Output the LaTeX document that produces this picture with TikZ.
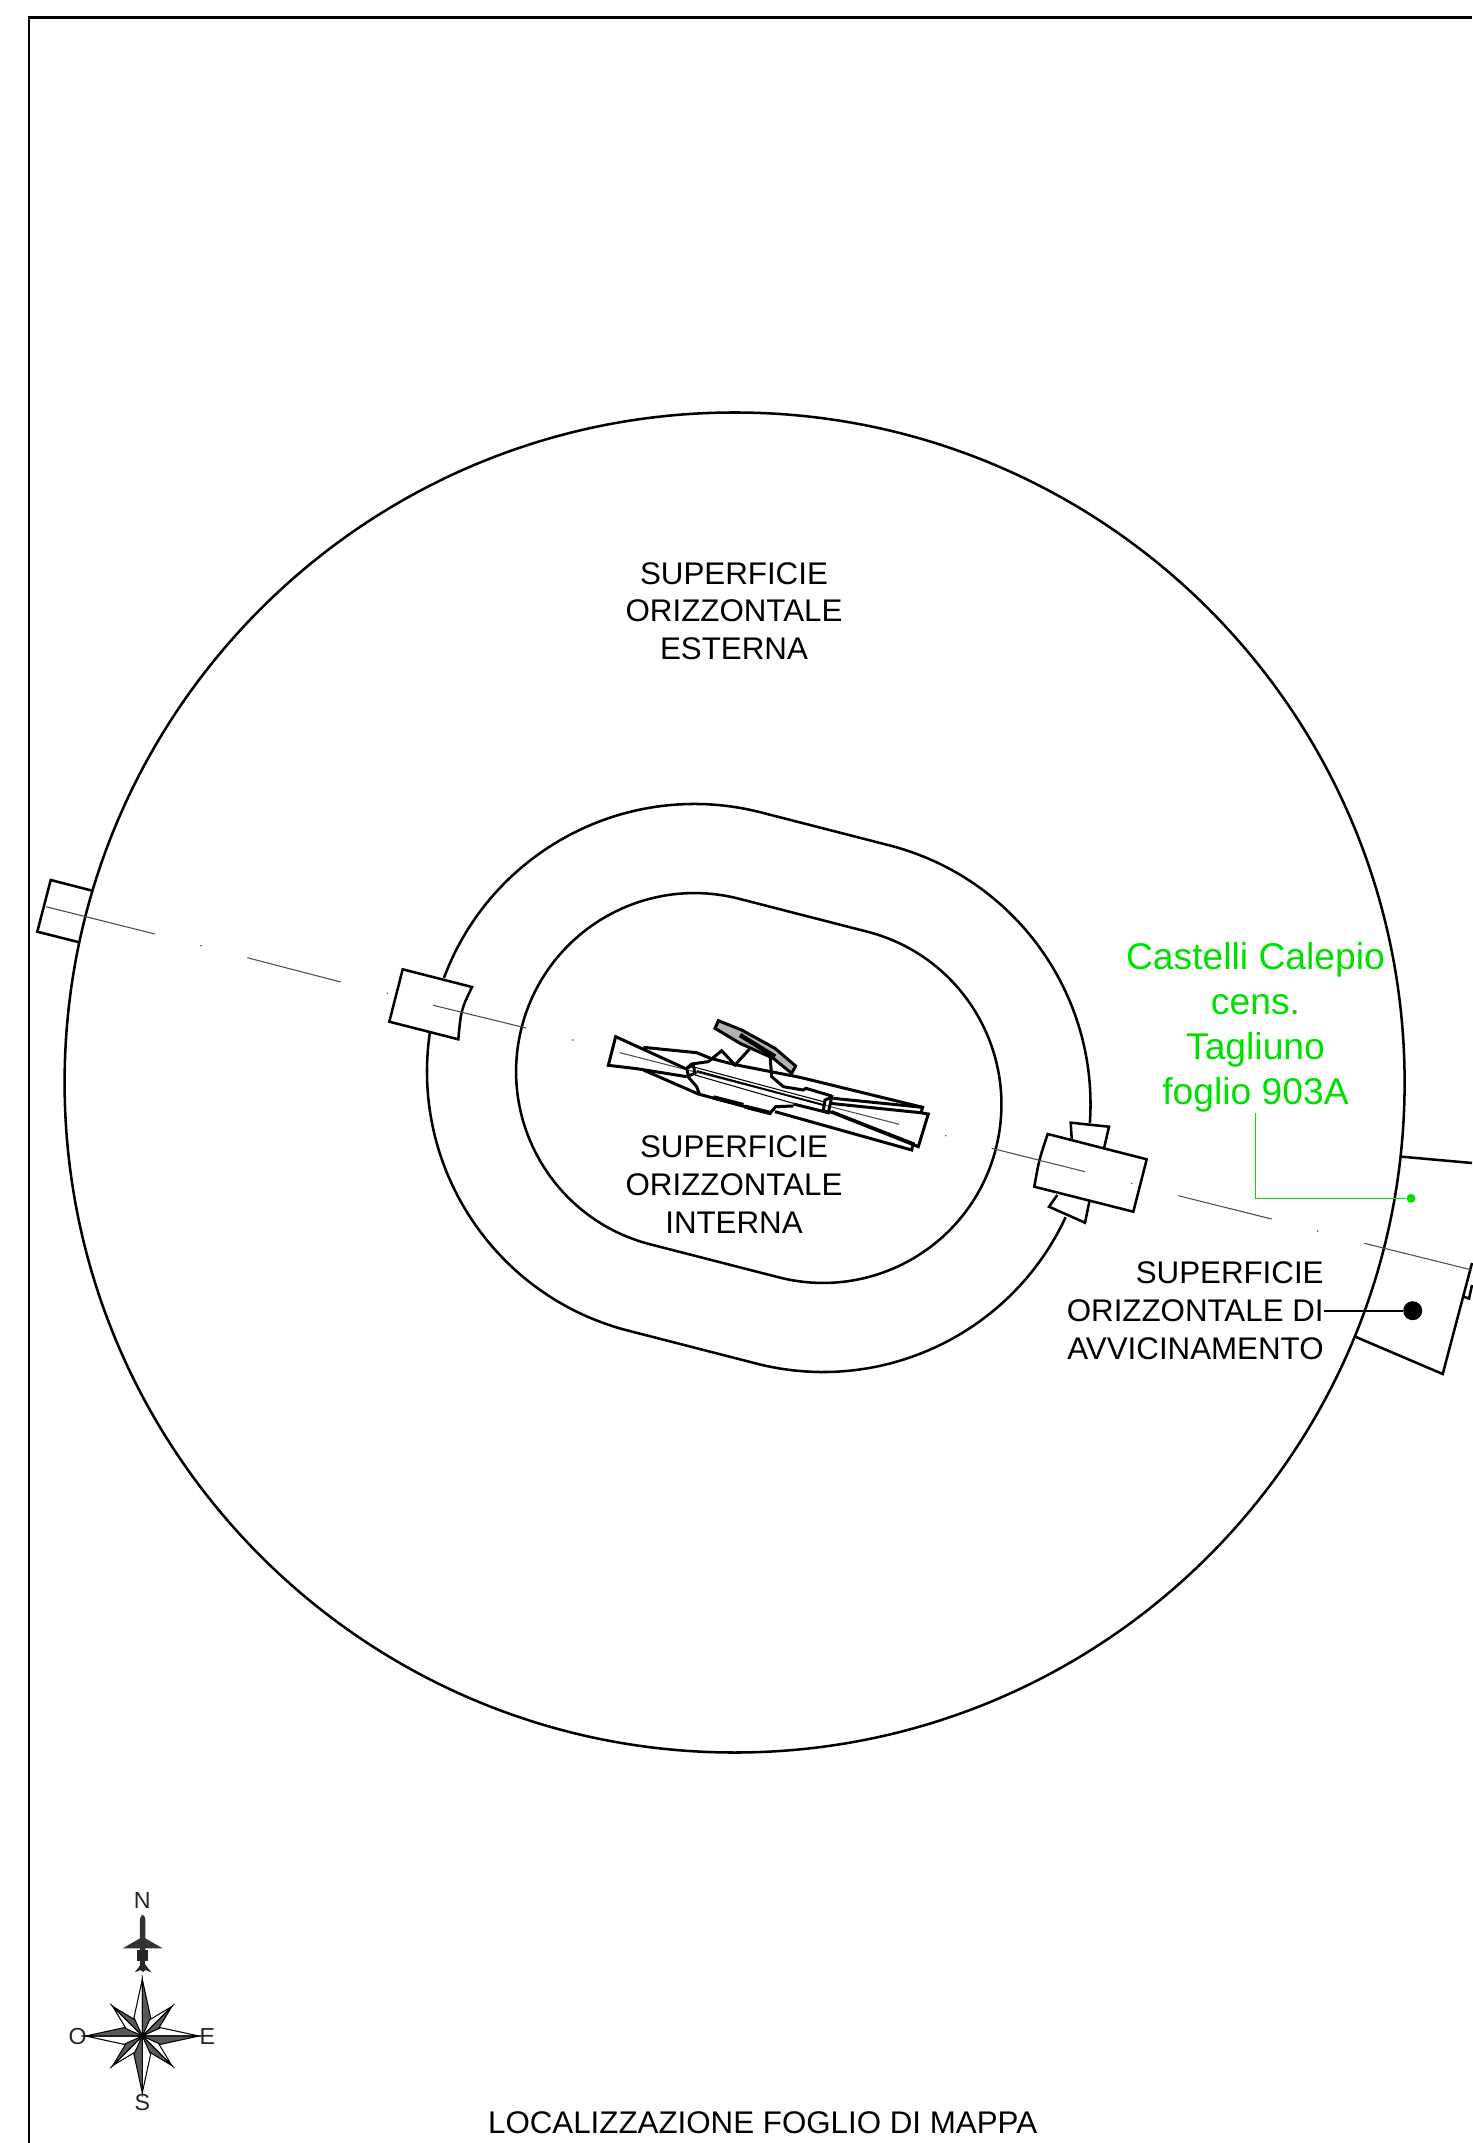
\documentclass[tikz,border=0pt]{standalone}
\usepackage{fontspec}
\setmainfont{Liberation Sans}
\usetikzlibrary{calc}
\definecolor{leadgreen}{RGB}{0,224,0}
\begin{document}
\begin{tikzpicture}[x=0.01cm,y=-0.01cm,line join=miter,
	edge/.style={line width=0.72pt},
	axisline/.style={line width=0.3pt,black!70},
	airport/.style={line width=0.85pt},
	label/.style={font=\fontsize{8.9}{10.7}\selectfont,align=center,inner sep=0pt},
	greenlabel/.style={font=\fontsize{10.6}{12.8}\selectfont,align=center,inner sep=0pt,text=leadgreen},
	compassletter/.style={font=\fontsize{6.6}{7}\selectfont,inner sep=0pt,text=black!85},
	rosefill/.style={fill=black!65,draw=black,line width=0.3pt}]
	\useasboundingbox (0,0) rectangle (1472,2143);
	\coordinate (stripa) at (694.5,1071.5);
	\coordinate (stripb) at (823,1104.5);
	\draw[edge] (1472,17.5) -- (29,17.5) -- (29,2143);
	\draw[edge] (734.6,1082.5) circle[radius=670];
	\draw[edge] ($(stripa)+(-75.6:178.4)$) -- ($(stripb)+(-75.6:178.4)$) arc[start angle=-75.6,end angle=104.4,radius=178.4]
		-- ($(stripa)+(104.4:178.4)$) arc[start angle=104.4,end angle=284.4,radius=178.4] -- cycle;
	\draw[edge] ($(stripb)+(24.9:267.5)$) arc[start angle=24.9,end angle=104.4,radius=267.5]
		-- ($(stripa)+(104.4:267.5)$) arc[start angle=104.4,end angle=188.3,radius=267.5];
	\draw[edge] ($(stripa)+(200.5:267.5)$) arc[start angle=200.5,end angle=284.4,radius=267.5]
		-- ($(stripb)+(-75.6:267.5)$) arc[start angle=-75.6,end angle=4,radius=267.5];
	\draw[edge] (92.3,890.7) -- (50.7,880) -- (37.3,931.7) -- (79.3,942.3);
	\draw[edge] (472,987) -- (402.7,969.3) -- (389.3,1021.7) -- (458.3,1039.3) .. controls (461,1010) .. cycle;
	\draw[edge] (1047.7,1134) -- (1146.7,1159.3) -- (1133.3,1211.7) -- (1034.3,1186.7) .. controls (1039,1160) .. cycle;
	\draw[edge] (1071.7,1139.3) -- (1070.7,1122.7) -- (1109,1126.7) -- (1104,1148.3);
	\draw[edge] (1057.3,1195) -- (1049,1206.7) -- (1085,1222.7) -- (1089.3,1201.7);
	\draw[edge] (1401.7,1156.7) -- (1472,1163);
	\draw[edge] (1356,1337) -- (1442.7,1374) -- (1472,1263);
	\draw[edge] (1463.3,1296.7) -- (1469,1298.5) -- (1472,1285);
	\foreach \ax/\ay/\bx/\by in {46/906.7/155/934,247.3/957.7/340.7/982,433.3/1005.3/526/1028,620/1052.7/899.3/1124.3,991.7/1148.3/1085/1171.7,1178.3/1195.7/1271.7/1219,1364.3/1243.3/1472/1270}
		\draw[axisline] (\ax,\ay) -- (\bx,\by);
	\foreach \ax/\ay in {201/945.7,387.3/993.3,572.7/1040,945.7/1135.7,1131.7/1183.3,1317.7/1231}
		\fill[black!70] (\ax,\ay) circle[radius=0.8];
	\begin{scope}[shift={(580,990)},scale=0.3333]
		\draw[airport] (315,235) -- (107,140) -- (85,226) -- (170,236) -- (320,260);
		\draw[airport] (190,172) -- (350,188) -- (392,205) -- (465,224) -- (660,262) -- (1028,352) -- (1023,370);
		\draw[airport] (320,235) -- (335,222) -- (385,215) -- (425,182) -- (465,225) -- (508,178);
		\draw[airport] (190,240) -- (355,312) -- (570,370) -- (587,350) -- (640,348);
		\draw[airport] (322,258) -- (350,290) -- (358,312);
		\draw[airport] (585,365) -- (995,480) -- (1000,461) -- (755,365);
		\draw[airport] (320,235) -- (340,225) -- (345,250) -- (325,258) -- cycle;
		\draw[airport] (735,330) -- (755,322) -- (745,368) -- (730,362) -- cycle;
		\draw[airport] (570,195) -- (575,260) -- (610,290) -- (670,300) -- (678,295) -- (755,318);
		\draw[airport] (745,368) -- (640,342);
		\draw[airport] (760,325) -- (1028,352);
		\draw[airport] (750,340) -- (1020,368) -- (1045,372) -- (1015,470) -- (750,365);
		\draw[airport,fill=black!30] (415,92) -- (405,115) -- (480,160) -- (580,205) -- (635,250) -- (647,228) -- (585,175) -- (485,120) -- cycle;
		\draw[line width=1.3pt] (480,135) -- (585,200);
		\draw[line width=0.3pt] (345,232) -- (730,335);
		\draw[line width=0.3pt] (345,255) -- (640,340);
		\draw[line width=0.55pt] (350,243) -- (730,345);
		\draw[line width=1.2pt] (400,322) -- (490,345);
		\draw[line width=1.2pt] (495,350) -- (575,370);
	\end{scope}
	\node[label] (esterna) at (734,611) {SUPERFICIE\\ORIZZONTALE\\ESTERNA};
	\node[label] (interna) at (734,1184.5) {SUPERFICIE\\ORIZZONTALE\\INTERNA};
	\node[label,align=right,anchor=east] (avvicinamento) at (1324.3,1310.7) {SUPERFICIE\\ORIZZONTALE DI\\AVVICINAMENTO};
	\node[circle,fill=black,inner sep=0pt,minimum size=0.19cm] (blackdot) at (1412.7,1310.7) {};
	\draw[line width=0.55pt] (avvicinamento.east) -- (blackdot);
	\node[greenlabel] (foglio) at (1255.5,1027) {Castelli Calepio\\cens.\\Tagliuno\\foglio 903A};
	\node[circle,fill=leadgreen,inner sep=0pt,minimum size=0.09cm] (greendot) at (1411,1198.3) {};
	\draw[leadgreen,line width=0.4pt] (foglio.south) |- (greendot);
	\node[label] (titolo) at (762.6,2123) {LOCALIZZAZIONE FOGLIO DI MAPPA};
	\begin{scope}[shift={(40,1870)},scale=0.3333]
		\fill[black!80] (300,245) -- (300,148) .. controls (302,130) and (314,130) .. (316,148) -- (316,245) -- cycle;
		\fill[black!80] (300,205) -- (248,235) -- (368,235) -- (316,205) -- cycle;
		\fill[black!85] (292,240) rectangle (325,272);
		\fill[black!85] (300,272) rectangle (316,285);
		\fill[black!85] (302,283) -- (316,283) -- (322,292) -- (335,307) -- (316,300) -- (309,306) -- (302,300) -- (284,307) -- (296,292) -- cycle;
	\end{scope}
	\begin{scope}[shift={(142.3,2036)},scale=0.3333]
		\foreach \a in {45,135,225,315}{
			\draw[rosefill,rotate=\a,fill=white] (0,0) -- (-20,-45) -- (0,-125) -- cycle;
			\draw[rosefill,rotate=\a] (0,0) -- (20,-45) -- (0,-125) -- cycle;
		}
		\foreach \a in {0,90,180,270}{
			\draw[rosefill,rotate=\a,fill=white] (0,0) -- (-25,-55) -- (0,-170) -- cycle;
			\draw[rosefill,rotate=\a] (0,0) -- (25,-55) -- (0,-170) -- cycle;
		}
	\end{scope}
	\node[compassletter] (nord) at (142.3,1900) {N};
	\node[compassletter] (ovest) at (77.7,2036) {O};
	\node[compassletter] (est) at (207.3,2036) {E};
	\node[compassletter] (sud) at (142.3,2102.7) {S};
\end{tikzpicture}
\end{document}
